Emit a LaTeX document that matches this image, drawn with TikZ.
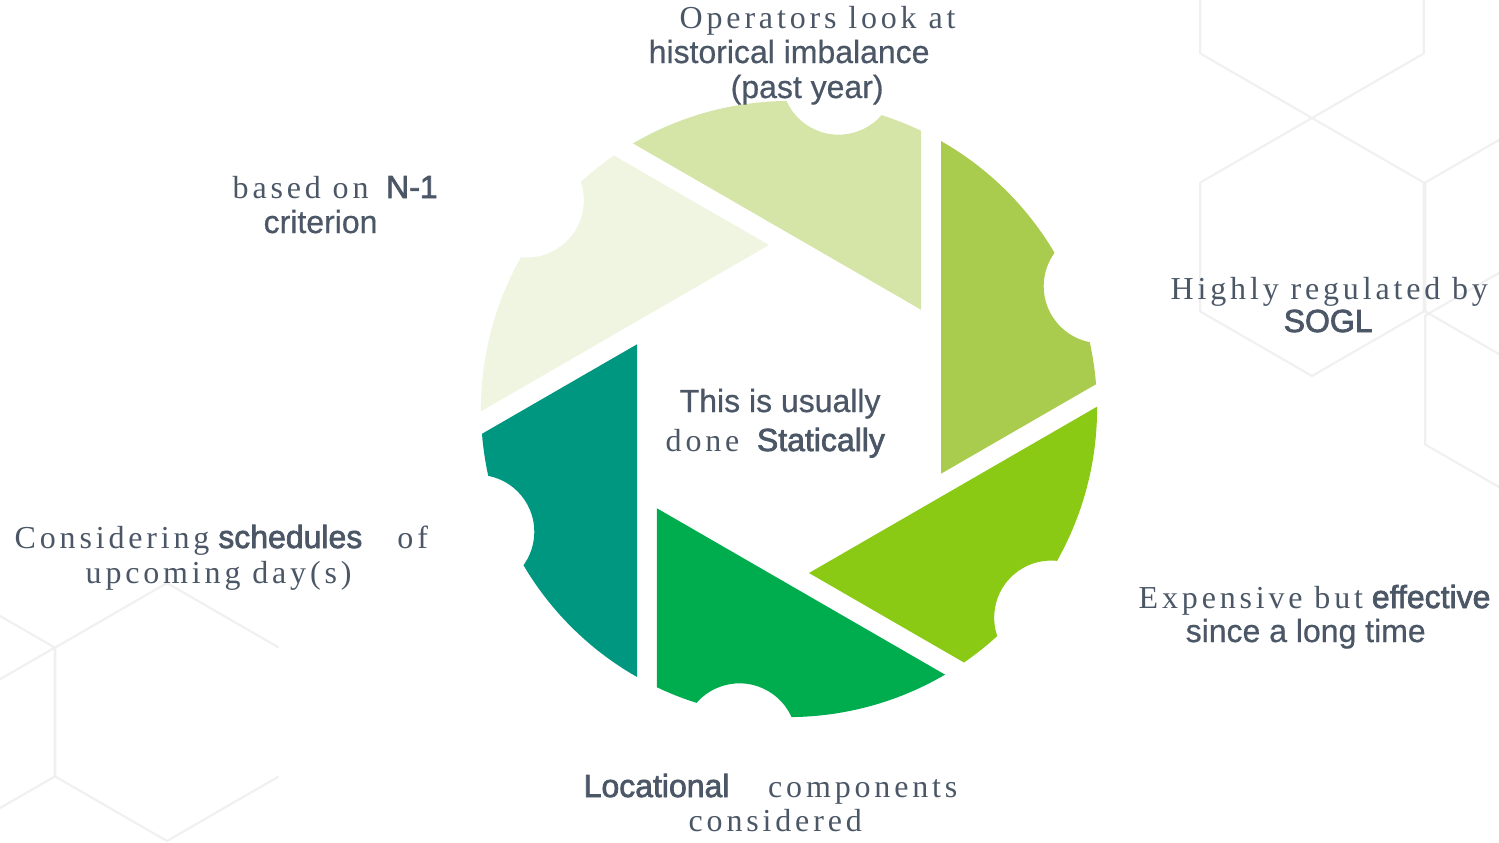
\documentclass[tikz,border=0pt]{standalone}
\usepackage{fontspec}
\setmainfont{Liberation Serif}
\setsansfont{Liberation Sans}[FakeBold=0.6]
\newfontfamily\spacedserif{Liberation Serif}[LetterSpace=12]
\newfontfamily\boldsans{Liberation Sans}[FakeBold=2.2]
\usepackage{tikz}

\definecolor{blade0}{HTML}{A9CB4E}
\definecolor{blade1}{HTML}{D5E5A8}
\definecolor{blade2}{HTML}{EFF5E0}
\definecolor{blade3}{HTML}{009780}
\definecolor{blade4}{HTML}{00AD4E}
\definecolor{blade5}{HTML}{8AC914}
\definecolor{txtgray}{HTML}{4B5766}
\definecolor{hexgray}{HTML}{F0F0F0}

\newcommand{\sr}[1]{{\spacedserif #1}}
\newcommand{\kw}[1]{{\boldsans #1}}

\begin{document}
\begin{tikzpicture}[hexline/.style={draw=hexgray, line width=0.6pt},
lbl/.style={anchor=base west, inner sep=0pt, text=txtgray,
font=\sffamily\fontsize{9.1}{10}\selectfont}]
\useasboundingbox (-7.89,-4.33) rectangle (7.10,4.09);
% faint hexagons in the back
\foreach \cx/\cy in {5.23/4.20, 5.23/1.62, 7.48/1.62, 7.48/0.29, -8.46/-3.03}{
\draw[hexline] (\cx,\cy) +(90:1.29) -- +(30:1.29) -- +(-30:1.29) -- +(-90:1.29)
  -- +(-150:1.29) -- +(150:1.29) -- cycle;}
\draw[hexline] (-6.22,-3.03) +(-30:1.29) -- +(-90:1.29) -- +(-150:1.29)
  -- +(150:1.29) -- +(90:1.29) -- +(30:1.29);
\draw[hexline] (-7.34,-2.385) -- ++(-150:0.64);
% shutter blades, each with a bite out of the rim
\foreach \k in {0,...,5}{
\begin{scope}[rotate=60*\k]
\clip (0,0) circle (3.08);
\fill[fill=blade\k, even odd rule] (1.52,-0.647) -- ++(90:8) -- ++(-30:8) -- cycle
  (21.5:3.35) circle (0.57);
\end{scope}}
% labels
\node[lbl] (op1) at (-1.10,3.81) {\sr{Operators look at}};
\node[lbl] (op2) at (-1.41,3.46) {historical imbalance};
\node[lbl] (op3) at (-0.59,3.11) {(past year)};
\node[lbl] (nm1) at (-5.57,2.11) {\sr{based on}\hspace{5pt}\kw{N-1}};
\node[lbl] (nm2) at (-5.26,1.76) {criterion};
\node[lbl] (reg1) at (3.81,1.10) {\sr{Highly regulated by}};
\node[lbl] (reg2) at (4.94,0.77) {\kw{SOGL}};
\node[lbl] (exp1) at (3.49,-1.99) {\sr{Expensive but} \kw{effective}};
\node[lbl] (exp2) at (3.96,-2.33) {since a long time};
\node[lbl] (loc1) at (-2.06,-3.88) {\kw{Locational}\hspace{11pt}\sr{components}};
\node[lbl] (loc2) at (-1.01,-4.22) {\sr{considered}};
\node[lbl] (sch1) at (-7.75,-1.39) {\sr{Considering} \kw{schedules}\hspace{10pt}\sr{of}};
\node[lbl] (sch2) at (-7.04,-1.74) {\sr{upcoming day(s)}};
\node[lbl] (mid1) at (-1.10,-0.03) {This is usually};
\node[lbl] (mid2) at (-1.24,-0.42) {\sr{done}\hspace{5pt}\kw{Statically}};
\end{tikzpicture}
\end{document}
